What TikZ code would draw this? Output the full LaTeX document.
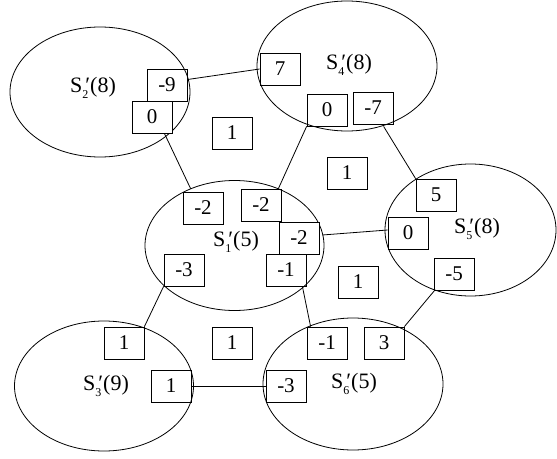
\documentclass[tikz,border=0pt]{standalone}
\usepackage{fontspec}
\setmainfont{Liberation Serif}
\usetikzlibrary{calc}
\newcommand\Sprime[1]{S\rlap{\raisebox{-0.3em}{\fontsize{12}{12}\selectfont #1}}\kern0.14em′}
\begin{document}
\begin{tikzpicture}[x=1pt,y=-1pt,
  region/.style={draw,line width=0.8pt},
  lab/.style={font=\fontsize{22}{25}\selectfont, inner sep=0pt},
  wbox/.style={draw,line width=0.8pt,minimum width=40pt,minimum height=32pt,inner sep=0pt,font=\fontsize{21}{24}\selectfont},
  link/.style={line width=0.8pt}]
\useasboundingbox (0,0) rectangle (557,458);
% regions
\draw[region] (100,92) ellipse [x radius=90pt, y radius=65pt];
\draw[region] (347,66) ellipse [x radius=90pt, y radius=65pt];
\draw[region] (234.5,245.5) ellipse [x radius=89.5pt, y radius=65pt];
\draw[region] (470.5,230) ellipse [x radius=85.5pt, y radius=66pt];
\draw[region] (104,386) ellipse [x radius=89.5pt, y radius=65pt];
\draw[region] (353,384) ellipse [x radius=90pt, y radius=66pt];
% labels
\node[lab] (l2) at (93,88) {\Sprime{2}(8)};
\node[lab] (l4) at (349,65) {\Sprime{4}(8)};
\node[lab] (l1) at (236,242) {\Sprime{1}(5)};
\node[lab] (l5) at (477,229) {\Sprime{5}(8)};
\node[lab] (l3) at (106,386) {\Sprime{3}(9)};
\node[lab] (l6) at (354,384) {\Sprime{6}(5)};
% boxes
\node[wbox] (a9) at (167,85) {-9};
\node[wbox,fill=white] (a0) at (152,117) {0};
\node[wbox] (c1) at (232,133) {1};
\node[wbox] (b7) at (280,69) {7};
\node[wbox] (d0) at (327,110) {0};
\node[wbox] (d7) at (373,108) {-7};
\node[wbox] (c2) at (347,173) {1};
\node[wbox] (e5) at (436,195) {5};
\node[wbox] (f2a) at (203,208) {-2};
\node[wbox] (f2b) at (261,205) {-2};
\node[wbox,fill=white] (f2c) at (299,238) {-2};
\node[wbox] (f3) at (184,270) {-3};
\node[wbox] (f1) at (286,270) {-1};
\node[wbox] (e0) at (408,233) {0};
\node[wbox] (c3) at (358,282) {1};
\node[wbox] (e5n) at (454,274) {-5};
\node[wbox] (g1) at (124,343) {1};
\node[wbox] (c4) at (232,343) {1};
\node[wbox] (g1r) at (171,386) {1};
\node[wbox] (h1) at (327,343) {-1};
\node[wbox] (h3) at (384,343) {3};
\node[wbox] (h3n) at (286,386) {-3};
% connectors
\draw[link] (a9.15) -- (b7.west);
\draw[link] ($(a0.south east)+(-8,0)$) -- ($(f2a.north west)+(8,-3)$);
\draw[link] ($(f2b.north east)+(-3,0)$) -- (d0.south west);
\draw[link] ($(d7.south west)+(31,2)$) -- (e5.north west);
\draw[link] ($(f2c.east)+(3,-3)$) -- ($(e0.west)+(0,-3)$);
\draw[link] (f3.south west) -- (g1.north east);
\draw[link] ($(f1.south east)+(-4,0)$) -- ($(h1.north west)+(4,0)$);
\draw[link] ($(e5n.south west)+(1,0)$) -- (h3.north east);
\draw[link] (g1r.east) -- (h3n.west);
\end{tikzpicture}
\end{document}
